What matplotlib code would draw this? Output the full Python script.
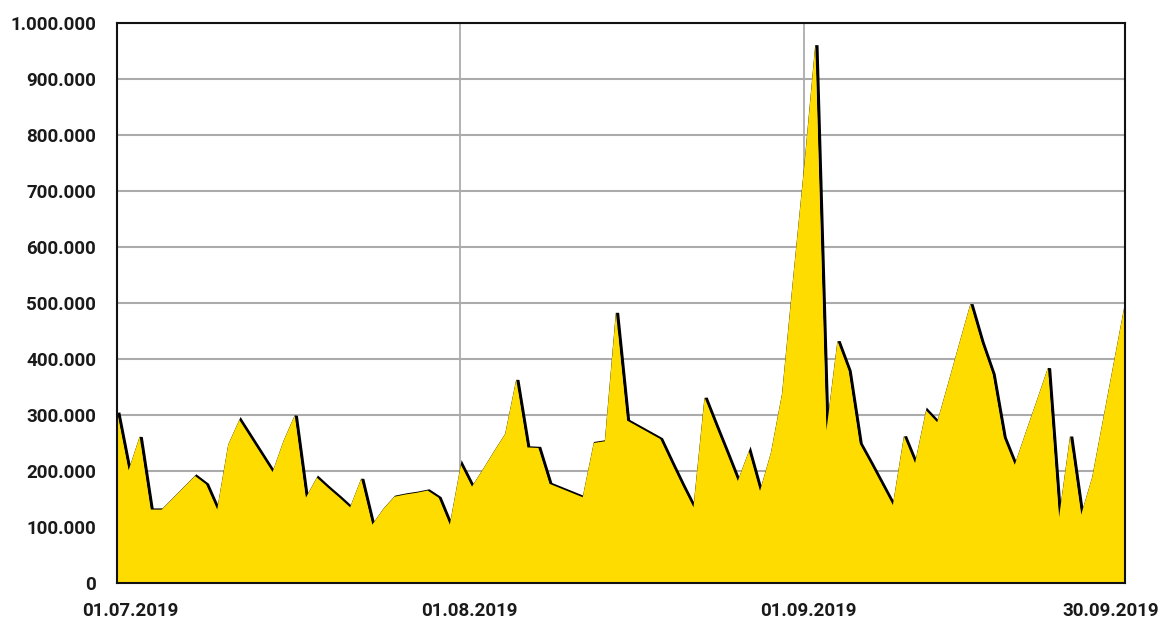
import pandas as pd
import matplotlib.pyplot as plt
import matplotlib.transforms as mtransforms
from matplotlib.ticker import FuncFormatter, MultipleLocator

# Daily values, 01.07.2019 - 30.09.2019 (thousands)
dates = pd.date_range('2019-07-01', '2019-09-30', freq='D')
values_k = [
    303, 202, 262, 132, 132, 152, 172, 192, 177, 132,
    248, 292, 261, 230, 199, 255, 300, 153, 189, 171,
    154, 136, 187, 105, 133, 155, 159, 162, 166, 153,
    105,
    212, 173, 204, 236, 267, 364, 243, 242, 178, 170,
    162, 154, 251, 254, 484, 291, 280, 269, 258, 216,
    175, 136, 332, 282, 233, 183, 236, 165, 234, 339,
    545,
    745, 962, 273, 433, 380, 250, 214, 177, 140, 263,
    215, 309, 288, 358, 429, 499, 431, 374, 261, 212,
    270, 327, 385, 118, 263, 123, 190, 295, 400, 505,
]
values = [v * 1000 for v in values_k]

tick_dates = pd.to_datetime(['2019-07-01', '2019-08-01', '2019-09-01', '2019-09-30'])
tick_labels = ['01.07.2019', '01.08.2019', '01.09.2019', '30.09.2019']

yellow = '#FFDC00'
grid_color = '#ABABAB'

fig = plt.figure(figsize=(11.68, 6.25), dpi=100)
ax = fig.add_axes([117 / 1168, 1 - 583 / 625, (1125 - 117) / 1168, (583 - 23) / 625])

# black "shadow" line, shifted a bit to the right, sits under the fill
shadow = mtransforms.offset_copy(ax.transData, fig=fig, x=2, y=-1, units='dots')
ax.plot(dates, values, color='black', lw=2.4, transform=shadow, zorder=2,
        solid_joinstyle='miter')
ax.fill_between(dates, values, 0, color=yellow, lw=0, zorder=3)

# grid
for d in tick_dates[1:3]:
    ax.axvline(d, color=grid_color, lw=1.3, zorder=1)
ax.yaxis.set_major_locator(MultipleLocator(100000))
ax.grid(axis='y', color=grid_color, lw=1.5, zorder=1)
ax.set_axisbelow(True)

ax.set_xlim(dates[0], dates[-1])
ax.set_ylim(0, 1000000)

ax.yaxis.set_major_formatter(FuncFormatter(lambda v, p: f'{v:,.0f}'.replace(',', '.')))
ax.set_xticks(tick_dates)
ax.set_xticklabels(tick_labels)

ax.tick_params(length=0, labelsize=13.5, colors='#1a1a1a')
ax.tick_params(axis='y', pad=15)
ax.tick_params(axis='x', pad=14)
for lab in ax.get_xticklabels() + ax.get_yticklabels():
    lab.set_fontfamily('Roboto')
    lab.set_fontweight('bold')

# small horizontal nudges of the date labels
for lab, dx in zip(ax.get_xticklabels(), [13, 9, 5, -14]):
    lab.set_transform(lab.get_transform() + mtransforms.ScaledTranslation(dx / 100, 0, fig.dpi_scale_trans))

for s in ax.spines.values():
    s.set_color('#111111')
    s.set_linewidth(1.5)
    s.set_zorder(5)

fig.savefig('out.png', dpi=100)
